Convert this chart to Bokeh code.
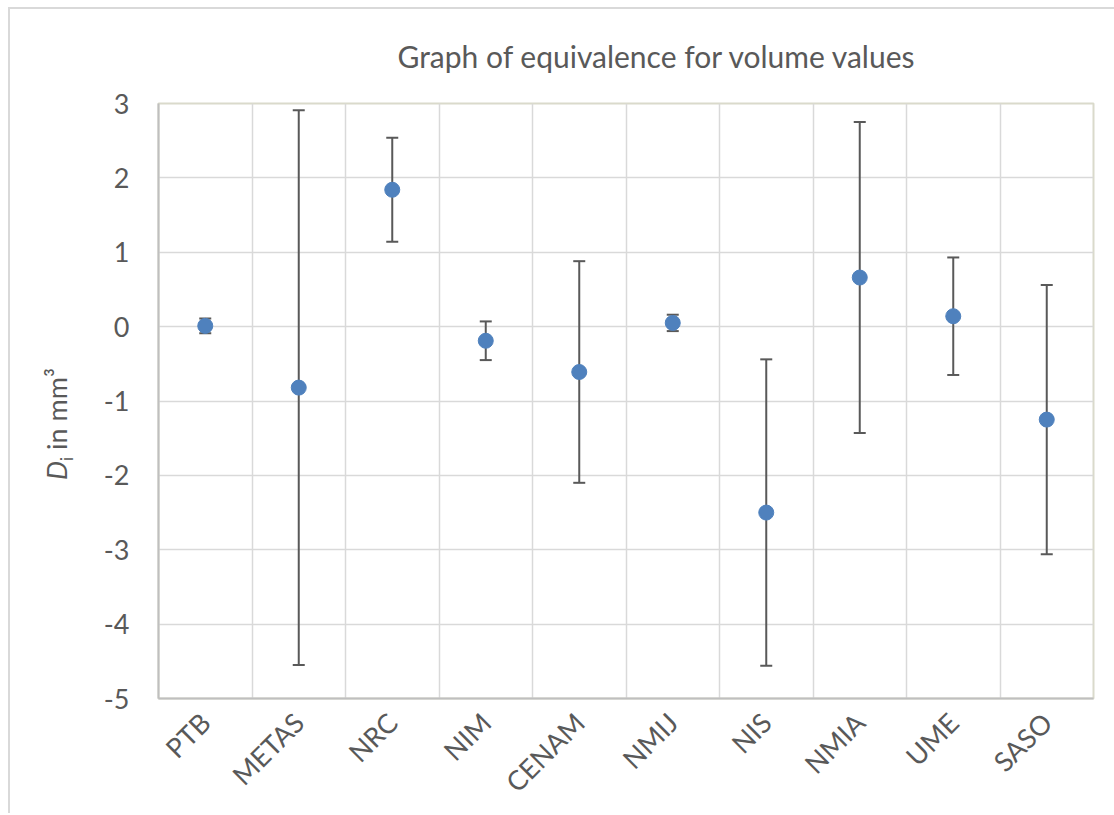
import math
from bokeh.plotting import figure
from bokeh.models import FactorRange, Range1d, FixedTicker, Title, Div
from bokeh.layouts import row
from bokeh.embed import file_html
from bokeh.resources import INLINE

# ---- data ----
institutes = ["PTB", "METAS", "NRC", "NIM", "CENAM", "NMIJ", "NIS", "NMIA", "UME", "SASO"]
di_values = [0.01, -0.82, 1.84, -0.19, -0.61, 0.05, -2.50, 0.66, 0.14, -1.25]
uncert = [0.10, 3.73, 0.70, 0.26, 1.49, 0.11, 2.06, 2.09, 0.79, 1.81]
y_ticks = [-5, -4, -3, -2, -1, 0, 1, 2, 3]
title_text = "Graph of equivalence for volume values"

upper = [d + e for d, e in zip(di_values, uncert)]
lower = [d - e for d, e in zip(di_values, uncert)]

TXT = "#595959"
FONT = "Lato"
H = 813
DIV_W = 100

p = figure(x_range=FactorRange(factors=institutes), y_range=Range1d(-5, 3),
           width=1114 - DIV_W, height=H, output_backend="svg", toolbar_location=None,
           min_border_left=158 - DIV_W, min_border_right=21, min_border_top=103,
           min_border_bottom=H - 698, margin=0)
p.border_fill_color = None
p.background_fill_color = "white"

# error bars
p.segment(x0=institutes, y0=lower, x1=institutes, y1=upper, line_color="#595959", line_width=2)
p.scatter(x=institutes + institutes, y=upper + lower, marker="dash", size=12,
          line_color="#595959", line_width=2)
# points
p.scatter(x=institutes, y=di_values, size=15, fill_color="#4f81bd", line_color="#4f81bd")

# grids
p.xgrid.ticker = FixedTicker(ticks=list(range(1, len(institutes))))
p.ygrid.ticker = FixedTicker(ticks=y_ticks)
for g in (p.xgrid, p.ygrid):
    g.grid_line_color = "#d9d9d9"
    g.grid_line_width = 1.5

p.outline_line_color = "#dadacb"
p.outline_line_width = 2

# axes
p.yaxis.ticker = FixedTicker(ticks=y_ticks)
p.yaxis.major_label_overrides = {t: str(t) for t in y_ticks}
for ax in (p.xaxis, p.yaxis):
    ax.axis_line_color = "#bfbfbf"
    ax.axis_line_width = 2
    ax.major_tick_line_color = None
    ax.minor_tick_line_color = None
    ax.major_tick_out = 0
    ax.major_tick_in = 0
    ax.major_label_text_font = FONT
    ax.major_label_text_font_size = "27px"
    ax.major_label_text_color = TXT
p.yaxis.major_label_standoff = 29
p.xaxis.major_label_standoff = 19
p.xaxis.major_label_orientation = math.pi / 4

# title
p.add_layout(Title(text=title_text, align="left", offset=239, standoff=59,
                   text_font=FONT, text_font_size="30px", text_font_style="normal",
                   text_color=TXT), "above")

# y axis label (rich text: italic D, subscript i)
ylabel_html = (
    '<div style="display:inline-block;margin-left:43px;margin-top:480px;'
    'transform-origin:0 0;transform:rotate(-90deg);white-space:nowrap;'
    'font-family:Lato;font-size:27px;line-height:27px;color:#595959;">'
    '<i>D</i><sub style="font-size:17px;vertical-align:-6px;line-height:0">i</sub> in mm³</div>'
)
ylab = Div(text=ylabel_html, width=DIV_W, height=H, margin=0)

layout = row(ylab, p, spacing=0,
             styles={"background": "linear-gradient(#d9d9d9,#d9d9d9) 8px 7px / calc(100% - 8px) 2px no-repeat, "
                                   "linear-gradient(#d9d9d9,#d9d9d9) 8px 7px / 2px calc(100% - 7px) no-repeat"})

open("out.html", "w").write(file_html(layout, INLINE))
